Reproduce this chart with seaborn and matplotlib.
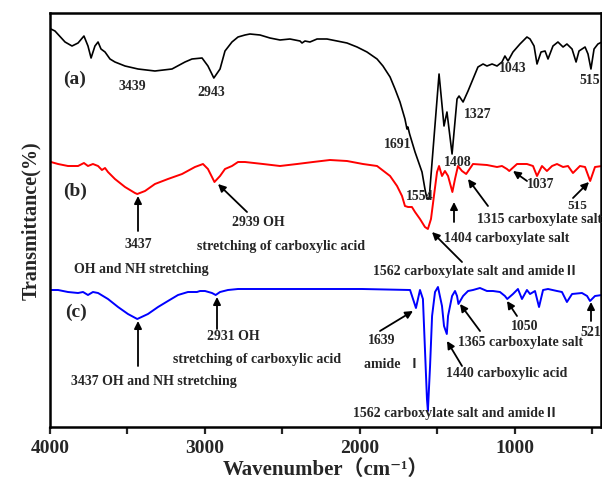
import numpy as np
import pandas as pd
import matplotlib
matplotlib.use("Agg")
import matplotlib.pyplot as plt
import seaborn as sns

# ---------------- data (wavenumber, transmittance in arbitrary stacked units) ----------------
wn_a = [3994, 3968, 3903, 3858, 3819, 3781, 3755, 3735, 3710, 3690, 3671, 3645, 3613, 3581, 3516,
        3432, 3323, 3213, 3129, 3084, 3019, 2981, 2943, 2903, 2871, 2826, 2787, 2742, 2710, 2645,
        2581, 2516, 2452, 2387, 2374, 2355, 2323, 2277, 2213, 2148, 2084, 2019, 1955, 1890, 1852,
        1806, 1774, 1742, 1710, 1697, 1691, 1680, 1645, 1600, 1581, 1568, 1554, 1490, 1458, 1439,
        1406, 1374, 1361, 1335, 1303, 1271, 1239, 1206, 1181, 1148, 1116, 1084, 1065, 1045, 1013,
        968, 923, 903, 877, 858, 832, 806, 787, 755, 723, 690, 665, 632, 606, 587, 548, 529, 510,
        490, 465, 439]
tr_a = [398, 396, 385, 381, 384, 391, 381, 369, 381, 385, 378, 375, 368, 365, 361,
        358, 356, 358, 365, 368, 369, 361, 349, 358, 376, 385, 390, 392, 393, 392,
        389, 387, 388, 386, 384, 386, 385, 388, 388, 386, 384, 380, 375, 368, 361,
        350, 338, 325, 308, 298, 300, 293, 275, 255, 238, 228, 228, 353, 301, 315,
        273, 328, 331, 325, 336, 348, 360, 363, 361, 363, 361, 365, 371, 366, 375,
        383, 390, 388, 381, 363, 375, 376, 368, 381, 385, 380, 383, 378, 365, 376, 380, 373, 358,
        378, 383, 385]

wn_b = [3994, 3948, 3884, 3819, 3781, 3755, 3723, 3690, 3665, 3645, 3626, 3581, 3516, 3452, 3437,
        3387, 3323, 3239, 3148, 3065, 3013, 2981, 2955, 2939, 2903, 2871, 2826, 2787, 2742, 2626,
        2516, 2406, 2303, 2194, 2084, 1981, 1890, 1806, 1761, 1729, 1710, 1690, 1665, 1645, 1613,
        1581, 1562, 1542, 1523, 1503, 1490, 1471, 1452, 1432, 1404, 1387, 1368, 1342, 1315, 1271,
        1181, 1116, 1084, 1052, 1037, 987, 923, 884, 858, 826, 794, 761, 729, 690, 658, 626, 581,
        548, 515, 484, 439]
tr_b = [265, 263, 261, 261, 264, 261, 263, 261, 257, 259, 255, 248, 240, 234, 233,
        236, 243, 248, 253, 260, 263, 258, 250, 245, 251, 258, 261, 265, 265, 263,
        261, 263, 265, 267, 266, 263, 261, 251, 241, 231, 221, 220, 220, 215, 208,
        200, 198, 208, 231, 255, 261, 251, 256, 251, 235, 248, 261, 256, 253, 263,
        262, 260, 261, 258, 256, 263, 263, 261, 251, 261, 256, 261, 263, 260, 261, 254, 261,
        260, 246, 260, 261]

wn_c = [4000, 3948, 3884, 3819, 3787, 3755, 3723, 3690, 3626, 3561, 3497, 3437, 3368, 3303, 3239,
        3174, 3110, 3052, 3032, 3000, 2955, 2931, 2903, 2852, 2787, 2742, 2387, 1987, 1677, 1658,
        1639, 1626, 1613, 1594, 1581, 1568, 1562, 1548, 1535, 1516, 1497, 1471, 1458, 1440, 1432,
        1406, 1387, 1374, 1365, 1335, 1303, 1271, 1226, 1181, 1142, 1097, 1065, 1050, 1013, 981,
        955, 923, 903, 871, 845, 819, 787, 729, 697, 665, 632, 568, 535, 516, 484, 439]
tr_c = [137, 137, 135, 134, 135, 132, 135, 134, 128, 120, 113, 108, 113, 120, 126,
        132, 135, 135, 136, 136, 134, 132, 135, 137, 138, 138, 138, 138, 137, 128,
        119, 128, 137, 128, 78, 28, 16, 61, 111, 135, 140, 121, 101, 93, 111,
        131, 136, 131, 123, 131, 136, 137, 139, 136, 136, 135, 131, 128, 133, 138,
        128, 137, 133, 136, 120, 137, 138, 136, 135, 125, 133, 134, 131, 126, 131, 132]

series_names = ["(a)", "(b)", "(c)"]
series_colors = ["#000000", "#ff0000", "#0000ff"]
x_ticks = [4000, 3000, 2000, 1000]
x_minor = [3500, 2500, 1500, 500]

# ---------------- style ----------------
sns.set_style("white")
plt.rcParams["font.family"] = ["Liberation Serif", "Noto Sans CJK SC", "DejaVu Serif"]
plt.rcParams["font.weight"] = "bold"

fig = plt.figure(figsize=(6.02, 4.85), dpi=100)
L, R, T, B = 50, 601, 14, 428
W, H = 602, 485
ax = fig.add_axes([L / W, 1 - B / H, (R - L) / W, (B - T) / H])

frames = []
for name, w, t in zip(series_names, [wn_a, wn_b, wn_c], [tr_a, tr_b, tr_c]):
    frames.append(pd.DataFrame({"wn": w, "T": t, "s": name}))
df = pd.concat(frames, ignore_index=True)

lws = [1.2, 1.4, 1.4]
for name, col, lw in zip(series_names, series_colors, lws):
    sns.lineplot(data=df[df.s == name], x="wn", y="T", color=col, lw=lw,
                 estimator=None, ax=ax, legend=False)

XMAX = 4000 - (R - L) * 1000 / 155.0
ax.set_xlim(4000, XMAX)
ax.set_ylim(0, B - T)
ax.set_xticks(x_ticks)
ax.set_xticks(x_minor, minor=True)
ax.set_xticklabels([str(v) for v in x_ticks])
ax.set_yticks([])
ax.tick_params(axis="x", which="both", direction="out", length=5, width=1.6,
               labelsize=14, bottom=True, top=False, pad=4)
for lab in ax.get_xticklabels():
    lab.set_fontweight("bold")
for sp in ax.spines.values():
    sp.set_linewidth(1.8)
    sp.set_color("black")

ax.set_xlabel("Wavenumber（cm⁻¹）", fontsize=15, fontweight="bold", labelpad=2)
ax.set_ylabel("Transmittance(%)", fontsize=14.5, fontweight="bold", labelpad=6)


def P(px, py):
    """pixel position in the figure -> data coordinates (layout helper for labels)"""
    return (4000 - (px - L) * 1000 / 155.0, B - py)


def txt(s, px, py, size=10, ha="center"):
    x, y = P(px, py)
    ax.text(x, y, s, ha=ha, va="center", fontsize=size, fontweight="bold",
            clip_on=False)


def arrow(tail, head):
    ax.annotate("", xy=P(*head), xytext=P(*tail),
                arrowprops=dict(arrowstyle="-|>", color="black", lw=1.3,
                                mutation_scale=11, shrinkA=0, shrinkB=0))


# series labels
txt("(a)", 75, 79, size=14)
txt("(b)", 75, 191, size=14)
txt("(c)", 76, 312, size=14)

# (a) peak labels
txt("3439", 132, 87)
txt("2943", 211, 92)
txt("1691", 398, 145)
txt("1554", 420, 197)
txt("1408", 458, 163)
txt("1327", 478, 115)
txt("1043", 513, 69)
txt("515", 590, 81)

# (b) annotations
arrow((138, 232), (138, 197))
txt("3437", 138, 245)
txt("OH and NH stretching", 141, 270)
arrow((247, 213), (218, 185))
txt("2939 OH", 258, 222)
txt("stretching of carboxylic acid", 281, 247)
arrow((462, 263), (432, 233))
arrow((454, 223), (454, 203))
txt("1404 carboxylate salt", 507, 239)
txt("1562 carboxylate salt and amideⅡ", 476, 272)
arrow((488, 207), (468, 180))
txt("1315 carboxylate salt", 477, 220, ha="left")
arrow((527, 182), (513, 172))
txt("1037", 541, 185)
arrow((573, 199), (589, 183))
txt("515", 577, 206, size=9.5)

# (c) annotations
arrow((138, 367), (138, 322))
txt("3437 OH and NH stretching", 154, 382)
arrow((217, 330), (217, 298))
txt("2931 OH", 233, 337)
txt("stretching of carboxylic acid", 257, 360)
arrow((380, 332), (413, 312))
txt("1639", 382, 341)
txt("amide  Ⅰ", 393, 365)
txt("1562 carboxylate salt and amideⅡ", 456, 414)
arrow((462, 367), (447, 342))
txt("1440 carboxylic acid", 507, 374)
arrow((480, 332), (460, 305))
txt("1365 carboxylate salt", 521, 343)
arrow((517, 317), (507, 302))
txt("1050", 525, 327)
arrow((591, 322), (591, 303))
txt("521", 591, 332)

fig.savefig("out.png", dpi=100)
